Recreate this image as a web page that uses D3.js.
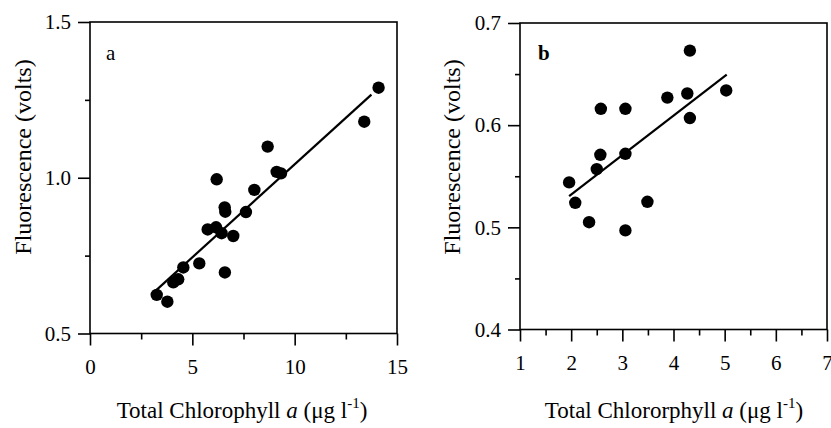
<!DOCTYPE html>
<html><head><meta charset="utf-8">
<script src="https://cdn.jsdelivr.net/npm/d3@7"></script>
<style>body{margin:0;background:#fff}svg{display:block}</style>
</head><body><svg id="c" width="831" height="428"></svg>
<script>
// Panel a data
const aX = [3.26,3.78,4.07,4.31,4.56,5.34,6.59,5.75,6.16,6.43,7.0,6.58,6.61,6.19,7.62,8.03,8.68,9.12,9.33,13.4,14.1];
const aY = [0.624,0.602,0.664,0.674,0.712,0.725,0.696,0.834,0.841,0.822,0.813,0.905,0.891,0.995,0.890,0.961,1.100,1.019,1.014,1.180,1.289];
const aFit = {x0:3.2, x1:13.75, slope:0.0597, intercept:0.446};
const aXTicks = [0,5,10,15], aXMinor = [2.5,7.5,12.5];
const aYTicks = [0.5,1.0,1.5], aYMinor = [0.75,1.25];
// Panel b data
const bX = [1.96,2.08,2.35,2.58,2.57,2.50,3.06,3.06,3.06,3.49,3.88,4.27,4.32,4.32,5.03];
const bY = [0.544,0.524,0.505,0.616,0.571,0.557,0.616,0.572,0.497,0.525,0.627,0.631,0.673,0.607,0.634];
const bFit = {x0:1.96, x1:5.04, slope:0.0386, intercept:0.455};
const bXTicks = [1,2,3,4,5,6,7], bXMinor = [1.5,2.5,3.5,4.5,5.5,6.5];
const bYTicks = [0.4,0.5,0.6,0.7], bYMinor = [0.45,0.55,0.65];

const FONT = "'Liberation Serif', Tinos, 'Times New Roman', 'DejaVu Serif', serif";
const svg = d3.select("#c");

function panel(o){
  const x = d3.scaleLinear().domain(o.xd).range([o.l,o.r]);
  const y = d3.scaleLinear().domain(o.yd).range([o.b,o.t]);
  const g = svg.append("g");
  g.append("rect").attr("x",o.l).attr("y",o.t).attr("width",o.r-o.l).attr("height",o.b-o.t)
    .attr("fill","none").attr("stroke","#000").attr("stroke-width",1.6);
  g.append("g").attr("transform",`translate(0,${o.b})`)
    .call(d3.axisBottom(x).tickValues(o.xt).tickSize(12).tickPadding(14).tickFormat(d3.format("d")));
  g.append("g").attr("transform",`translate(0,${o.b})`)
    .call(d3.axisBottom(x).tickValues(o.xm).tickSize(6).tickFormat(""));
  g.append("g").attr("transform",`translate(${o.l},0)`)
    .call(d3.axisLeft(y).tickValues(o.yt).tickSize(12).tickPadding(7).tickFormat(d3.format(".1f")));
  g.append("g").attr("transform",`translate(${o.l},0)`)
    .call(d3.axisLeft(y).tickValues(o.ym).tickSize(5).tickFormat(""));
  g.selectAll(".domain").remove();
  g.selectAll(".tick line").attr("stroke","#000").attr("stroke-width",1.6);
  g.selectAll(".tick text").attr("font-size",21).style("font-family",FONT).attr("fill","#000");
  g.append("line").attr("x1",x(o.fit.x0)).attr("y1",y(o.fit.intercept+o.fit.slope*o.fit.x0))
    .attr("x2",x(o.fit.x1)).attr("y2",y(o.fit.intercept+o.fit.slope*o.fit.x1))
    .attr("stroke","#000").attr("stroke-width",2.2);
  g.selectAll("circle.p").data(o.xs.map((v,i)=>[v,o.ys[i]])).join("circle")
    .attr("cx",d=>x(d[0])).attr("cy",d=>y(d[1])).attr("r",6.2).attr("fill","#000");
  g.append("text").attr("x",o.letterX).attr("y",60).attr("font-size",21).style("font-family",FONT)
    .attr("font-weight",o.bold?"bold":"normal").text(o.letter);
  g.append("text").attr("transform",`translate(${o.ylx},157) rotate(-90)`).style("font-family",FONT)
    .attr("text-anchor","middle").attr("dominant-baseline","central").attr("font-size",24)
    .text("Fluorescence (volts)");
  const t = g.append("text").attr("x",o.xlx).attr("y",418).attr("text-anchor","middle")
    .attr("font-size",23).style("font-family",FONT);
  t.append("tspan").text(o.xlabel+" ");
  t.append("tspan").attr("font-style","italic").text("a");
  t.append("tspan").text(" (\u03bcg l");
  t.append("tspan").attr("font-size",15).attr("dy",-10).text("-1");
  t.append("tspan").attr("dy",10).text(")");
}

panel({l:90,r:397,t:22,b:333.5,xd:[0,15],yd:[0.5,1.5],xt:aXTicks,xm:aXMinor,yt:aYTicks,ym:aYMinor,
  xs:aX,ys:aY,fit:aFit,letter:"a",letterX:106,bold:false,ylx:22.5,xlx:242,xlabel:"Total Chlorophyll"});
panel({l:520,r:827,t:23,b:329.5,xd:[1,7],yd:[0.4,0.7],xt:bXTicks,xm:bXMinor,yt:bYTicks,ym:bYMinor,
  xs:bX,ys:bY,fit:bFit,letter:"b",letterX:538,bold:true,ylx:452,xlx:674,xlabel:"Total Chlororphyll"});
</script></body></html>
